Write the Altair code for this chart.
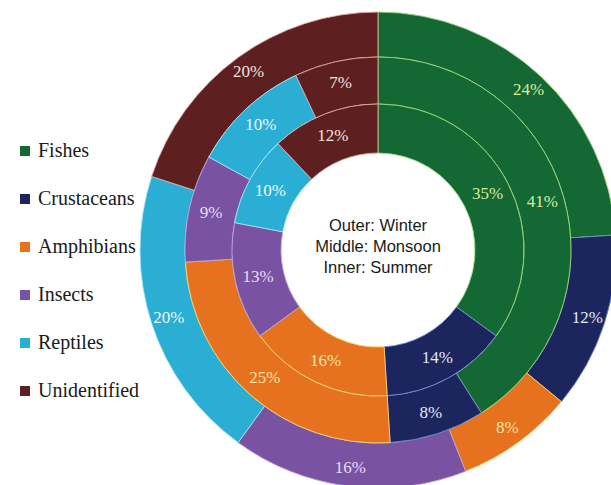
import altair as alt
import pandas as pd

categories = ["Fishes", "Crustaceans", "Amphibians", "Insects", "Reptiles", "Unidentified"]
winter = [24, 12, 8, 16, 20, 20]
monsoon = [41, 8, 25, 9, 10, 7]
summer = [35, 14, 16, 13, 10, 12]
center_lines = ["Outer: Winter", "Middle: Monsoon", "Inner: Summer"]

fill_colors = ["#136834", "#1c255e", "#e6711f", "#7a52a2", "#2aaed3", "#5e1f21"]
edge_colors = ["#9fd878", "#6f8fd0", "#f6d56a", "#b9a0dc", "#a8e4f4", "#d9a8a0"]
label_colors = ["#dcec98", "#e4e8f4", "#fbe6a2", "#e6ddf4", "#eef8fb", "#f1e2df"]

rows = []
for season, vals in [("Winter", winter), ("Monsoon", monsoon), ("Summer", summer)]:
    for i, (c, v) in enumerate(zip(categories, vals)):
        rows.append({"season": season, "category": c, "value": v, "idx": i,
                     "label": f"{v}%"})
df = pd.DataFrame(rows)

CX, CY = 378, 250
rings = {"Summer": (97, 146), "Monsoon": (146, 193), "Winter": (193, 238)}
label_r = {"Summer": 123, "Monsoon": 171, "Winter": 220}

theta = alt.Theta("value:Q", stack=True, scale=alt.Scale(domain=[0, 100]))
order = alt.Order("idx:Q", sort="ascending")

layers = []
first = True
for season in ["Winter", "Monsoon", "Summer"]:
    r0, r1 = rings[season]
    if first:
        legend = alt.Legend(
            title=None, orient="none", legendX=15, legendY=141,
            symbolType="square", symbolSize=100, symbolStrokeWidth=0,
            labelFont="Liberation Serif", labelFontSize=20, labelColor="#1a1a1a",
            labelOffset=3, rowPadding=28, padding=0,
        )
    else:
        legend = None
    arc = alt.Chart(df).transform_filter(alt.datum.season == season).mark_arc(
        innerRadius=r0, outerRadius=r1, strokeWidth=0.9
    ).encode(
        theta=theta,
        order=order,
        x=alt.value(CX),
        y=alt.value(CY),
        color=alt.Color("category:N", sort=categories,
                        scale=alt.Scale(domain=categories, range=fill_colors),
                        legend=legend),
        stroke=alt.Stroke("category:N", sort=categories,
                          scale=alt.Scale(domain=categories, range=edge_colors),
                          legend=None),
    )
    first = False
    txt = alt.Chart(df).transform_filter(alt.datum.season == season).mark_text(
        radius=label_r[season], font="Liberation Serif", fontSize=17,
        align="center", baseline="middle"
    ).encode(
        theta=theta,
        order=order,
        x=alt.value(CX),
        y=alt.value(CY),
        detail="category:N",
        text="label:N",
        color=alt.Color("category:N", sort=categories,
                        scale=alt.Scale(domain=categories, range=label_colors),
                        legend=None),
    )
    layers += [arc, txt]

center = alt.Chart(pd.DataFrame({"k": [0]})).mark_text(
    font="Liberation Sans", fontSize=16.5, lineHeight=21,
    align="center", baseline="middle", color="#1a1a1a"
).encode(
    text=alt.value(center_lines),
    x=alt.value(CX),
    y=alt.value(226),
)

chart = alt.layer(*layers, center).resolve_scale(color="independent").properties(
    width=611, height=485, autosize=alt.AutoSizeParams(type="none"), padding=0,
    background="white"
).configure_view(strokeWidth=0)

chart.save("out.html", embed_options={"renderer": "svg", "actions": False})
